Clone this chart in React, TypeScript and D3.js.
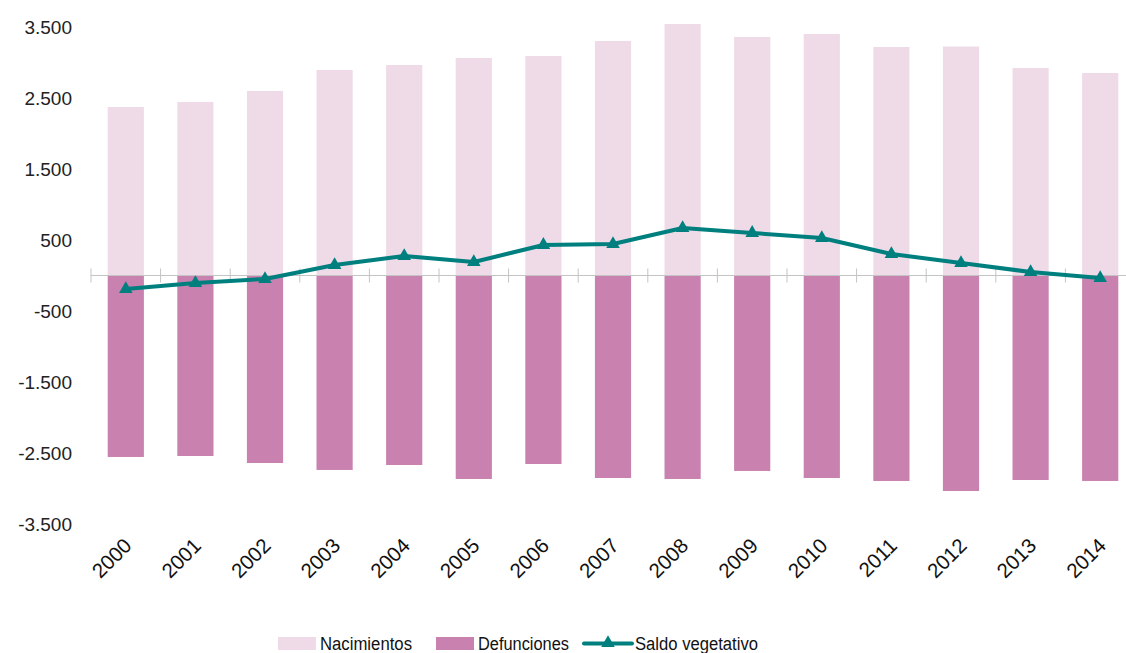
import * as d3 from "d3";
import React, { useEffect, useRef } from "react";

const years = ["2000", "2001", "2002", "2003", "2004", "2005", "2006", "2007", "2008", "2009", "2010", "2011", "2012", "2013", "2014"];
const nacimientos = [2373, 2444, 2599, 2894, 2965, 3063, 3092, 3303, 3542, 3359, 3401, 3218, 3225, 2923, 2852];
const defunciones = [-2556, -2542, -2641, -2739, -2669, -2866, -2655, -2852, -2866, -2753, -2852, -2894, -3035, -2880, -2894];
const saldo = [-190, -106, -49, 148, 275, 190, 430, 444, 669, 599, 528, 303, 176, 49, -35];
const yTicks = [3500, 2500, 1500, 500, -500, -1500, -2500, -3500];

const W = 1126;
const H = 653;
const FONT = "'Liberation Sans', Arial, Helvetica, sans-serif";

function App() {
  const svgRef = useRef<SVGSVGElement>(null);

  useEffect(() => {
    const svg = d3.select(svgRef.current);
    svg.selectAll("*").remove();

    const x = d3.scaleBand().domain(years).range([91, 1135]).paddingInner(0.48).paddingOuter(0.24);
    const y = d3.scaleLinear().domain([-3500, 3500]).range([524, 27]);
    const cx = (d: string) => (x(d) as number) + x.bandwidth() / 2;

    // bars
    svg.append("g").selectAll("rect")
      .data(nacimientos)
      .join("rect")
      .attr("x", (d, i) => x(years[i]) as number)
      .attr("width", x.bandwidth())
      .attr("y", d => y(d))
      .attr("height", d => y(0) - y(d))
      .attr("fill", "#efdbe7");

    svg.append("g").selectAll("rect")
      .data(defunciones)
      .join("rect")
      .attr("x", (d, i) => x(years[i]) as number)
      .attr("width", x.bandwidth())
      .attr("y", y(0))
      .attr("height", d => y(d) - y(0))
      .attr("fill", "#c982b0");

    // zero axis with ticks at band boundaries
    const axis = svg.append("g");
    axis.append("line")
      .attr("x1", 91).attr("x2", W)
      .attr("y1", y(0)).attr("y2", y(0))
      .attr("stroke", "#c4c4c4").attr("stroke-width", 1);
    const step = x.step();
    axis.selectAll(".tk")
      .data(d3.range(years.length + 1))
      .join("line")
      .attr("class", "tk")
      .attr("x1", i => 91 + i * step).attr("x2", i => 91 + i * step)
      .attr("y1", y(0) - 7).attr("y2", y(0) + 7)
      .attr("stroke", "#c4c4c4").attr("stroke-width", 1);

    // y labels (hyphen minus, dot thousands)
    svg.append("g").selectAll("text")
      .data(yTicks)
      .join("text")
      .attr("x", 72)
      .attr("y", d => y(d))
      .attr("dy", "0.35em")
      .attr("text-anchor", "end")
      .attr("font-family", FONT)
      .attr("font-size", 19)
      .attr("fill", "#222")
      .text(d => (d < 0 ? "-" : "") + d3.format(",")(Math.abs(d)).replace(/,/g, "."));

    // x labels
    svg.append("g").selectAll("text")
      .data(years)
      .join("text")
      .attr("transform", d => `translate(${cx(d) + 7},${547}) rotate(-45)`)
      .attr("text-anchor", "end")
      .attr("font-family", FONT)
      .attr("font-size", 20.5)
      .attr("fill", "#111")
      .text(d => d);

    // saldo line
    const line = d3.line<number>()
      .x((d, i) => cx(years[i]))
      .y(d => y(d));
    svg.append("path")
      .datum(saldo)
      .attr("d", line)
      .attr("fill", "none")
      .attr("stroke", "#007f7f")
      .attr("stroke-width", 4)
      .attr("stroke-linejoin", "round");

    const tri = d3.symbol().type(d3.symbolTriangle).size(80);
    svg.append("g").selectAll("path")
      .data(saldo)
      .join("path")
      .attr("d", tri)
      .attr("transform", (d, i) => `translate(${cx(years[i])},${y(d)})`)
      .attr("fill", "#007f7f");

    // legend
    const lg = svg.append("g").attr("font-family", FONT).attr("font-size", 18).attr("fill", "#111");
    lg.append("rect").attr("x", 278).attr("y", 637).attr("width", 38).attr("height", 13).attr("fill", "#efdbe7");
    lg.append("text").attr("x", 320).attr("y", 650).attr("textLength", 92).attr("lengthAdjust", "spacingAndGlyphs").text("Nacimientos");
    lg.append("rect").attr("x", 436).attr("y", 637).attr("width", 38).attr("height", 13).attr("fill", "#c982b0");
    lg.append("text").attr("x", 478).attr("y", 650).attr("textLength", 91).attr("lengthAdjust", "spacingAndGlyphs").text("Defunciones");
    lg.append("line").attr("x1", 584).attr("x2", 632).attr("y1", 643.5).attr("y2", 643.5)
      .attr("stroke", "#007f7f").attr("stroke-width", 4).attr("stroke-linecap", "round");
    lg.append("path").attr("d", tri).attr("transform", "translate(608,643)").attr("fill", "#007f7f");
    lg.append("text").attr("x", 635).attr("y", 650).attr("textLength", 123).attr("lengthAdjust", "spacingAndGlyphs").text("Saldo vegetativo");
  }, []);

  return (
    <svg
      ref={svgRef}
      width={W}
      height={H}
      style={{ position: "absolute", left: 0, top: 0, display: "block", background: "#fff" }}
    />
  );
}

export default App;
